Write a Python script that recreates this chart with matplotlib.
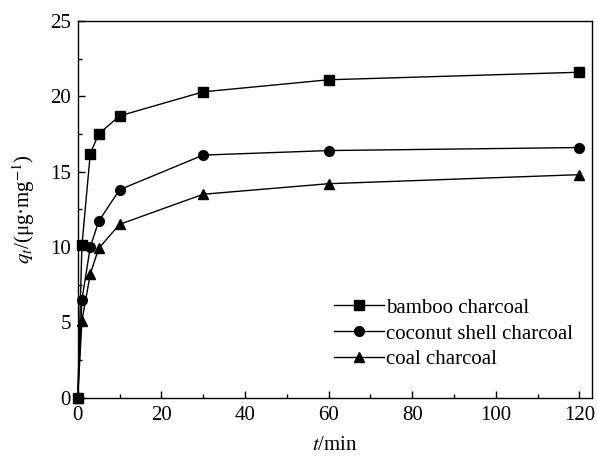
import matplotlib
matplotlib.use("Agg")
import matplotlib.pyplot as plt
from matplotlib.ticker import MultipleLocator

# adsorption time (min)
t_min = [0, 1, 3, 5, 10, 30, 60, 120]

# q_t (ug/mg)
q_bamboo = [0, 10.1, 16.2, 17.5, 18.7, 20.3, 21.1, 21.6]
q_coconut = [0, 6.5, 10.0, 11.7, 13.8, 16.1, 16.4, 16.6]
q_coal = [0, 5.1, 8.2, 9.9, 11.5, 13.5, 14.2, 14.8]

series_labels = ["bamboo charcoal", "coconut shell charcoal", "coal charcoal"]
series_markers = ["s", "o", "^"]


def main():
    plt.rcParams["font.family"] = "Liberation Serif"
    plt.rcParams["mathtext.fontset"] = "stix"

    fig = plt.figure(figsize=(5.98, 4.57), dpi=100)
    ax = fig.add_axes([0.130, 0.130, 0.860, 0.824])

    for q, lbl, mk in zip([q_bamboo, q_coconut, q_coal], series_labels, series_markers):
        ax.plot(t_min, q, color="black", lw=1.0, marker=mk, ms=7,
                label=lbl, clip_on=False, zorder=3)

    ax.set_xlim(0, 123)
    ax.set_ylim(0, 25)
    ax.xaxis.set_major_locator(MultipleLocator(20))
    ax.xaxis.set_minor_locator(MultipleLocator(10))
    ax.yaxis.set_major_locator(MultipleLocator(5))
    ax.yaxis.set_minor_locator(MultipleLocator(2.5))
    ax.tick_params(which="both", direction="in", top=False, right=False,
                   labelsize=15, width=1.0)
    ax.tick_params(axis="x", which="major", length=5, pad=6)
    ax.tick_params(axis="y", which="major", length=5, pad=5)
    ax.tick_params(which="minor", length=3)
    for sp in ax.spines.values():
        sp.set_linewidth(1.0)

    ax.set_xlabel("$t$/min", fontsize=15, labelpad=8)
    ax.set_ylabel("$q_t$/(μg·mg$^{-1}$)", fontsize=15, labelpad=9)

    ax.legend(loc="lower right", bbox_to_anchor=(1.0, 0.025), frameon=False,
              fontsize=15, handlelength=2.4, handletextpad=0.1,
              labelspacing=0.3)

    fig.savefig("out.png", dpi=100)
    plt.close(fig)


if __name__ == "__main__":
    main()
